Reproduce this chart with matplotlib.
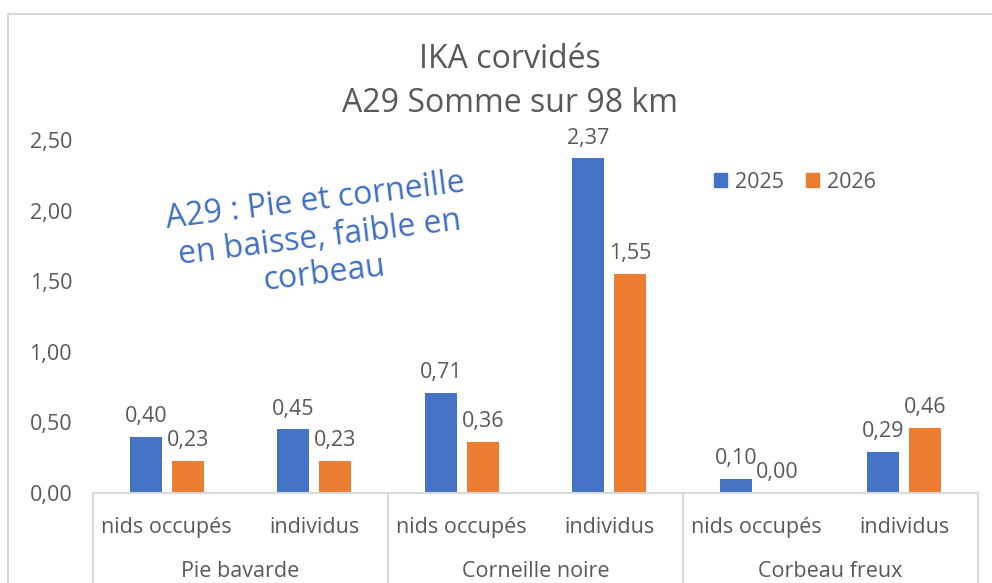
import matplotlib
matplotlib.use('Agg')
import matplotlib.pyplot as plt
from matplotlib.lines import Line2D
from matplotlib.patches import Patch
import numpy as np

plt.rcParams['font.family'] = ['Open Sans', 'DejaVu Sans']

# data
especes = ['Pie bavarde', 'Corneille noire', 'Corbeau freux']
mesures = ['nids occupés', 'individus']
annees = ['2025', '2026']
v2025 = [0.40, 0.45, 0.71, 2.37, 0.10, 0.29]
v2026 = [0.23, 0.23, 0.36, 1.55, 0.00, 0.46]
yticks = [0.0, 0.5, 1.0, 1.5, 2.0, 2.5]

bleu = '#4472C4'
orange = '#ED7D31'
gris = '#595959'
trait = '#D9D9D9'
fs = 15.5

fig = plt.figure(figsize=(9.92, 5.83), dpi=100)
ax = fig.add_axes([93 / 992, 1 - 493 / 583, 885 / 992, 353 / 583])

# outer chart border (only top and left visible in the crop)
fig.add_artist(Line2D([8 / 992, 1.0], [1 - 14 / 583] * 2, color=trait, lw=1.5))
fig.add_artist(Line2D([8 / 992] * 2, [0, 1 - 14 / 583], color=trait, lw=1.5))

x = np.arange(len(v2025))
w = 0.217
off = 0.142
b1 = ax.bar(x - off, v2025, w, color=bleu, label=annees[0])
b2 = ax.bar(x + off, v2026, w, color=orange, label=annees[1])

for bars, vals in [(b1, v2025), (b2, v2026)]:
    for r, v in zip(bars, vals):
        ax.annotate(f'{v:.2f}'.replace('.', ','), (r.get_x() + r.get_width() / 2, v),
                    xytext=(0, 7), textcoords='offset points', ha='center', va='bottom',
                    fontsize=fs, color=gris, annotation_clip=False)

ax.set_xlim(-0.5, len(x) - 0.5)
ax.set_ylim(0, 2.5)
ax.set_yticks(yticks)
ax.set_yticklabels([f'{t:.2f}'.replace('.', ',') for t in yticks], fontsize=fs, color=gris)
ax.tick_params(axis='y', length=0, pad=15)
ax.set_xticks([])
for s in ['left', 'right', 'top']:
    ax.spines[s].set_visible(False)
ax.spines['bottom'].set_color(trait)
ax.spines['bottom'].set_linewidth(1.5)

# two-level category axis
xt = ax.get_xaxis_transform()
for i in x:
    ax.text(i, -0.098, mesures[i % 2], transform=xt, ha='center', va='center',
            fontsize=fs, color=gris)
for k, nom in enumerate(especes):
    ax.text(2 * k + 0.5, -0.222, nom, transform=xt, ha='center', va='center',
            fontsize=fs, color=gris)
for xs in [-0.5, 1.5, 3.5, 5.5]:
    ax.plot([xs, xs], [0, -0.3], transform=xt, color=trait, lw=1.5, clip_on=False)

fig.text(510 / 992, 1 - 60 / 583, 'IKA corvidés', ha='center', va='center',
         fontsize=23, color=gris)
fig.text(510 / 992, 1 - 103 / 583, 'A29 Somme sur 98 km', ha='center', va='center',
         fontsize=23, color=gris)

ax.legend(handles=[Patch(color=bleu), Patch(color=orange)], labels=annees,
          loc='center', bbox_to_anchor=(795 / 992, 1 - 182 / 583),
          bbox_transform=fig.transFigure, ncol=2, frameon=False, fontsize=fs,
          labelcolor=gris, handlelength=0.6, handleheight=0.6, handletextpad=0.4,
          columnspacing=1.0)

fig.text(320 / 992, 1 - 238 / 583, 'A29 : Pie et corneille\nen baisse, faible en\ncorbeau',
         ha='center', va='center', multialignment='center', rotation=7,
         fontsize=23, color='#3F6FC4', linespacing=1.15, rotation_mode='anchor')

fig.savefig('out.png', dpi=100, facecolor='white')
